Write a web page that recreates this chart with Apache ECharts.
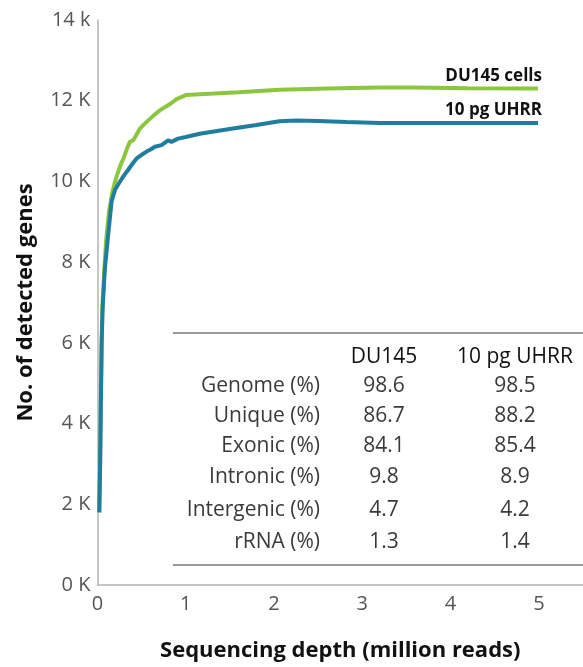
<!DOCTYPE html>
<html>
<head>
<meta charset="utf-8">
<script src="https://cdn.jsdelivr.net/npm/echarts@6/dist/echarts.min.js"></script>
<style>
html,body{margin:0;padding:0;background:#fff;}
#chart{width:583px;height:667px;}
</style>
</head>
<body>
<div id="chart"></div>
<script>
// ---- Data ----
const du145Depth = [0.02, 0.03, 0.038, 0.047, 0.055, 0.08, 0.1, 0.13, 0.165, 0.19, 0.22, 0.26, 0.3, 0.335, 0.367, 0.405, 0.44, 0.48, 0.53, 0.593, 0.65, 0.706, 0.763, 0.83, 0.895, 1.0, 1.16, 1.6, 2.06, 2.6, 3.19, 3.6, 4.2, 4.99];
const du145Genes = [1800, 3000, 4500, 6000, 6900, 7900, 8600, 9250, 9700, 9920, 10150, 10400, 10600, 10820, 10980, 11020, 11150, 11310, 11420, 11550, 11660, 11760, 11840, 11930, 12040, 12140, 12160, 12210, 12270, 12300, 12330, 12330, 12310, 12300];

const uhrrDepth = [0.02, 0.03, 0.038, 0.047, 0.059, 0.085, 0.122, 0.16, 0.2, 0.25, 0.3, 0.348, 0.4, 0.443, 0.5, 0.556, 0.6, 0.65, 0.725, 0.8, 0.838, 0.913, 1.0, 1.158, 1.497, 1.8, 2.06, 2.25, 2.5, 2.82, 3.2, 4.0, 4.99];
const uhrrGenes = [1800, 3000, 4500, 6000, 6900, 7880, 8700, 9510, 9800, 9980, 10150, 10290, 10450, 10570, 10660, 10740, 10790, 10860, 10900, 11020, 10980, 11060, 11100, 11180, 11300, 11400, 11490, 11510, 11500, 11470, 11450, 11450, 11450];

const seriesNames = ['DU145 cells', '10 pg UHRR'];
const yTickLabels = ['0 K', '2 K', '4 K', '6 K', '8 K', '10 K', '12 K', '14 k'];
const xTickLabels = ['0', '1', '2', '3', '4', '5'];

const tableHeaders = ['DU145', '10 pg UHRR'];
const tableRows = ['Genome (%)', 'Unique (%)', 'Exonic (%)', 'Intronic (%)', 'Intergenic (%)', 'rRNA (%)'];
const du145Stats = ['98.6', '86.7', '84.1', '9.8', '4.7', '1.3'];
const uhrrStats = ['98.5', '88.2', '85.4', '8.9', '4.2', '1.4'];

// ---- Styles ----
const FONT = 'Open Sans';
const GREEN = '#8cc63f';
const BLUE = '#1f7e9e';
const AXIS = '#b3b3b3';

const chart = echarts.init(document.getElementById('chart'));

// Table graphics built from arrays
const graphics = [];
const tableTop = 333, tableBottom = 565, tableLeft = 173, tableRight = 583;
graphics.push({type:'line', shape:{x1:tableLeft, y1:tableTop, x2:tableRight, y2:tableTop}, style:{stroke:'#999', lineWidth:2}});
graphics.push({type:'line', shape:{x1:tableLeft, y1:tableBottom, x2:tableRight, y2:tableBottom}, style:{stroke:'#999', lineWidth:2}});
const colX = [384, 515];
const headerY = 357;
const rowY = [386, 416, 446, 477, 510, 542];
tableHeaders.forEach((h, i) => {
  graphics.push({type:'text', x:colX[i], y:headerY, style:{text:h, fill:'#111', font:'21px "' + FONT + '"', align:'center', verticalAlign:'middle'}});
});
tableRows.forEach((r, i) => {
  graphics.push({type:'text', x:320, y:rowY[i], style:{text:r, fill:'#3a3a3a', font:'21px "' + FONT + '"', align:'right', verticalAlign:'middle'}});
  graphics.push({type:'text', x:colX[0], y:rowY[i], style:{text:du145Stats[i], fill:'#3a3a3a', font:'21px "' + FONT + '"', align:'center', verticalAlign:'middle'}});
  graphics.push({type:'text', x:colX[1], y:rowY[i], style:{text:uhrrStats[i], fill:'#3a3a3a', font:'21px "' + FONT + '"', align:'center', verticalAlign:'middle'}});
});

function pairs(xs, ys){ return xs.map((x, i) => [x, ys[i]]); }

const option = {
  animation: false,
  backgroundColor: '#fff',
  grid: {left: 97.5, right: 0, top: 20, bottom: 75, containLabel: false},
  xAxis: {
    type: 'value', min: 0, max: 5.5, interval: 1,
    name: 'Sequencing depth (million reads)', nameLocation: 'middle', nameGap: 55,
    nameTextStyle: {fontFamily: FONT, fontWeight: 'bold', fontSize: 22, color: '#111'},
    axisLine: {show: true, lineStyle: {color: AXIS, width: 1.5}},
    axisTick: {show: false},
    splitLine: {show: false},
    axisLabel: {showMaxLabel: false, margin: 9, fontFamily: FONT, fontSize: 20, color: '#555',
      formatter: v => Number.isInteger(v) && xTickLabels[v] !== undefined ? xTickLabels[v] : ''}
  },
  yAxis: {
    type: 'value', min: 0, max: 14000, interval: 2000,
    name: 'No. of detected genes', nameLocation: 'middle', nameGap: 61,
    nameTextStyle: {fontFamily: FONT, fontWeight: 'bold', fontSize: 22, color: '#111'},
    axisLine: {show: true, lineStyle: {color: AXIS, width: 1.5}},
    axisTick: {show: false},
    splitLine: {show: false},
    axisLabel: {margin: 7, fontFamily: FONT, fontSize: 20, color: '#555',
      formatter: v => yTickLabels[Math.round(v / 2000)]}
  },
  series: [
    {
      name: seriesNames[0], type: 'line', data: pairs(du145Depth, du145Genes),
      showSymbol: false, smooth: false, z: 2,
      lineStyle: {color: GREEN, width: 4},
      endLabel: {show: true, formatter: seriesNames[0], align: 'right', verticalAlign: 'bottom',
        offset: [-4, -4], fontFamily: FONT, fontWeight: 'bold', fontSize: 17, color: '#111'}
    },
    {
      name: seriesNames[1], type: 'line', data: pairs(uhrrDepth, uhrrGenes),
      showSymbol: false, smooth: false, z: 3,
      lineStyle: {color: BLUE, width: 4},
      endLabel: {show: true, formatter: seriesNames[1], align: 'right', verticalAlign: 'bottom',
        offset: [-4, -4], fontFamily: FONT, fontWeight: 'bold', fontSize: 17, color: '#111'}
    }
  ],
  graphic: graphics
};
chart.setOption(option);
</script>
</body>
</html>
